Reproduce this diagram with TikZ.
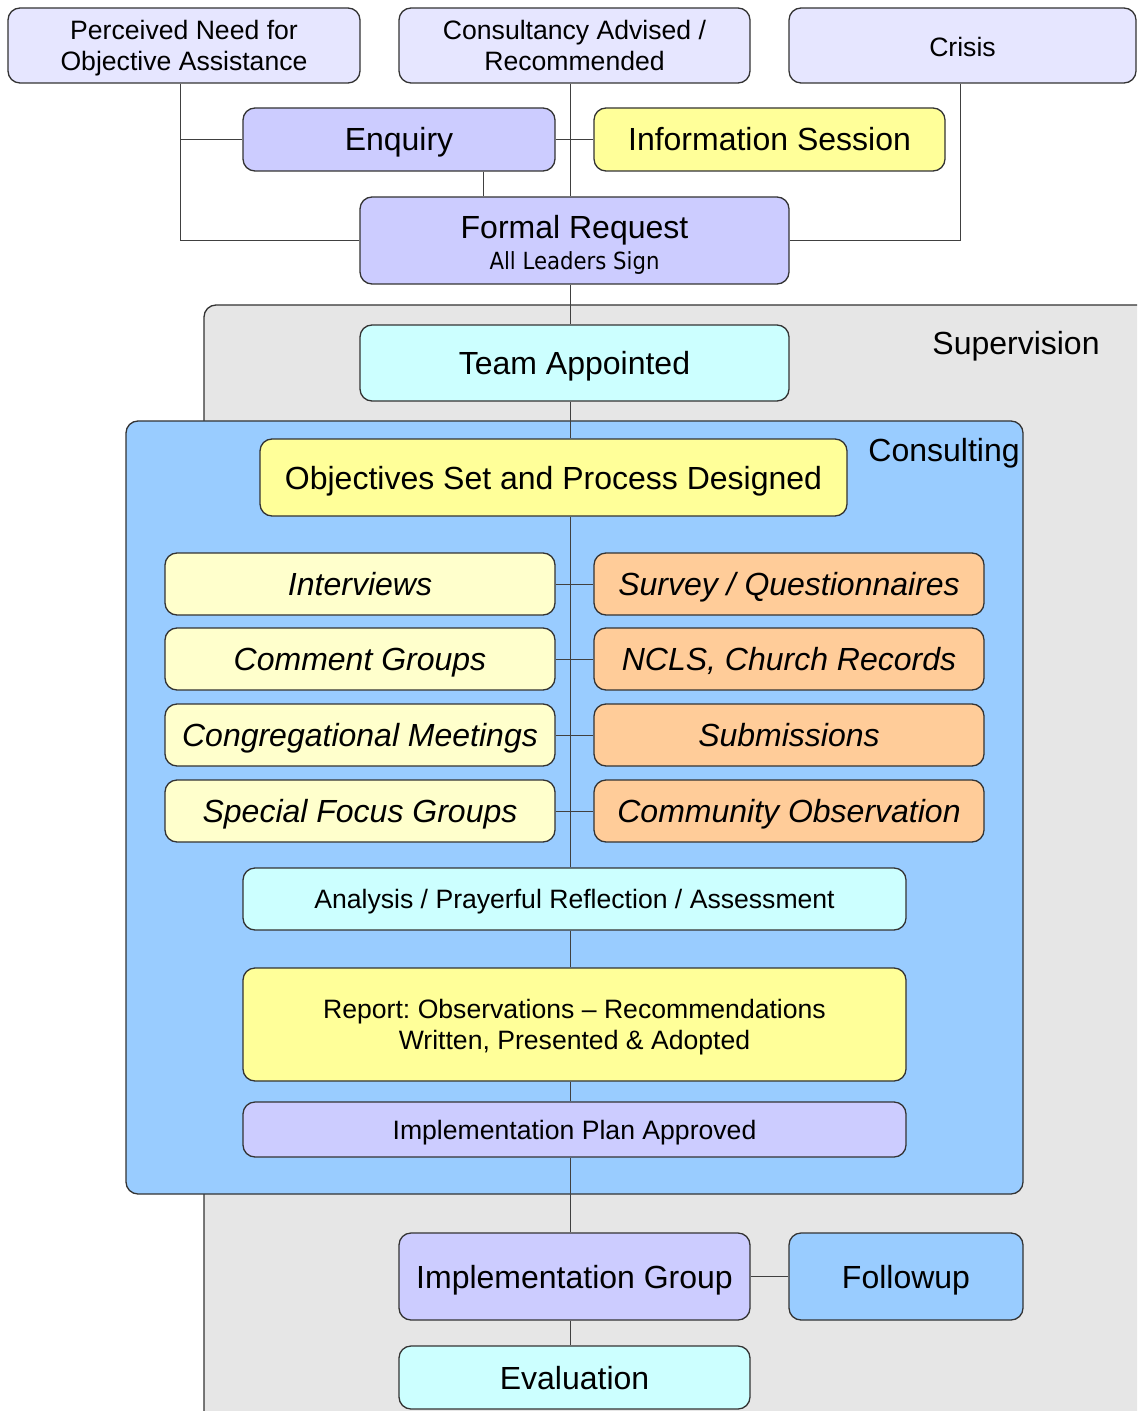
\documentclass[tikz,border=0pt]{standalone}
\usepackage{fontspec}
\setmainfont{Liberation Sans}
\newfontfamily\dvc{DejaVu Sans Condensed}
\definecolor{lav}{HTML}{E6E6FF}
\definecolor{peri}{HTML}{CCCCFF}
\definecolor{yel}{HTML}{FFFF99}
\definecolor{cya}{HTML}{CCFFFF}
\definecolor{gry}{HTML}{E6E6E6}
\definecolor{sky}{HTML}{99CCFF}
\definecolor{lyel}{HTML}{FFFFCC}
\definecolor{ora}{HTML}{FFCC99}
\definecolor{edge}{HTML}{333333}
\definecolor{conn}{HTML}{404040}
\tikzset{
  boxbase/.style={draw=edge, line width=0.65pt, rounded corners=6pt, inner sep=0pt, align=center, text=black},
  f13/.style={font=\fontsize{13.3}{15.5}\selectfont, text height=9.5pt, text depth=0pt},
  f13m/.style={font=\fontsize{13.3}{15.5}\selectfont, text depth=0pt},
  f16/.style={font=\fontsize{16}{19}\selectfont, text height=11.5pt, text depth=0pt},
  f16i/.style={font=\fontsize{16}{19}\selectfont\itshape, text height=11.5pt, text depth=0pt},
  connector/.style={draw=conn, line width=0.5pt},
  container/.style={draw=edge, line width=0.65pt, rounded corners=6pt},
}
% #1 name, #2 x1, #3 y1, #4 x2, #5 y2, #6 style, #7 text
\newcommand\bx[7]{%
  \node[boxbase,#6, minimum width={(#4-#2)*0.5pt}, minimum height={(#5-#3)*0.5pt}]
    (#1) at ({(#2+#4)/2},{(#3+#5)/2}) {#7};}
\begin{document}
\frenchspacing
\begin{tikzpicture}[x=0.5pt,y=-0.5pt]
\useasboundingbox (0,0) rectangle (1137,1411);
\clip (0,0) rectangle (1137,1411);
% containers
\draw[container, fill=gry] (204,305) rectangle (1170,1440);
\draw[container, fill=sky] (126,421) rectangle (1023,1194);
\node[f16, anchor=center] (suplbl) at (1016,343) {Supervision};
\node[f16, anchor=center] (conlbl) at (944,450) {Consulting};
% helper coordinates for connector columns
\coordinate (tx) at (570,0);
\coordinate (px) at (180,0);
\coordinate (ex) at (483,0);
\coordinate (cx) at (960,0);
% top boxes
\bx{perc}{8}{8}{360}{83}{fill=lav,f13m}{Perceived Need for\\Objective Assistance}
\bx{cons}{399}{8}{750}{83}{fill=lav,f13m}{Consultancy Advised /\\Recommended}
\bx{crisis}{789}{8}{1136}{83}{fill=lav,f13,text height=11.5pt}{Crisis}
\bx{enq}{243}{108}{555}{171}{fill=peri,f16}{Enquiry}
\bx{info}{594}{108}{945}{171}{fill=yel,f16}{Information Session}
\bx{fr}{360}{197}{789}{284}{fill=peri,f16,text depth=13.5pt}{Formal Request}
\node[font={\dvc\fontsize{11.8}{14}\selectfont}, text height=8.6pt, text depth=0pt, inner sep=0pt]
  (frsub) at (574.5,260.5) {All Leaders Sign};
\bx{team}{360}{325}{789}{401}{fill=cya,f16}{Team Appointed}
\bx{obj}{260}{439}{847}{516}{fill=yel,f16}{Objectives Set and Process Designed}
% method rows
\bx{int}{165}{553}{555}{615}{fill=lyel,f16i}{Interviews}
\bx{com}{165}{628}{555}{690}{fill=lyel,f16i}{Comment Groups}
\bx{cong}{165}{704}{555}{766}{fill=lyel,f16i}{Congregational Meetings}
\bx{spec}{165}{780}{555}{842}{fill=lyel,f16i}{Special Focus Groups}
\bx{surv}{594}{553}{984}{615}{fill=ora,f16i}{Survey / Questionnaires}
\bx{ncls}{594}{628}{984}{690}{fill=ora,f16i}{NCLS, Church Records}
\bx{subm}{594}{704}{984}{766}{fill=ora,f16i}{Submissions}
\bx{commo}{594}{780}{984}{842}{fill=ora,f16i}{Community Observation}
\bx{anal}{243}{868}{906}{930}{fill=cya,f13}{Analysis / Prayerful Reflection / Assessment}
\bx{rep}{243}{968}{906}{1081}{fill=yel,f13m}{Report: Observations -- Recommendations\\Written, Presented \& Adopted}
\bx{plan}{243}{1102}{906}{1157}{fill=peri,f13}{Implementation Plan Approved}
\bx{ig}{399}{1233}{750}{1320}{fill=peri,f16}{Implementation Group}
\bx{fu}{789}{1233}{1023}{1320}{fill=sky,f16}{Followup}
\bx{eval}{399}{1346}{750}{1409}{fill=cya,f16}{Evaluation}
% connectors
\draw[connector] (perc.south -| px) |- (fr.west);
\draw[connector] (px |- enq.west) -- (enq.west);
\draw[connector] (cons.south -| tx) -- (fr.north -| tx);
\draw[connector] (enq.east) -- (info.west);
\draw[connector] (enq.south -| ex) -- (fr.north -| ex);
\draw[connector] (crisis.south -| cx) |- (fr.east);
\draw[connector] (fr.south -| tx) -- (team.north -| tx);
\draw[connector] (team.south -| tx) -- (obj.north -| tx);
\draw[connector] (obj.south -| tx) -- (anal.north -| tx);
\draw[connector] (int.east) -- (surv.west);
\draw[connector] (com.east) -- (ncls.west);
\draw[connector] (cong.east) -- (subm.west);
\draw[connector] (spec.east) -- (commo.west);
\draw[connector] (anal.south -| tx) -- (rep.north -| tx);
\draw[connector] (rep.south -| tx) -- (plan.north -| tx);
\draw[connector] (plan.south -| tx) -- (ig.north -| tx);
\draw[connector] (ig.south -| tx) -- (eval.north -| tx);
\draw[connector] (ig.east) -- (fu.west);
\end{tikzpicture}
\end{document}
